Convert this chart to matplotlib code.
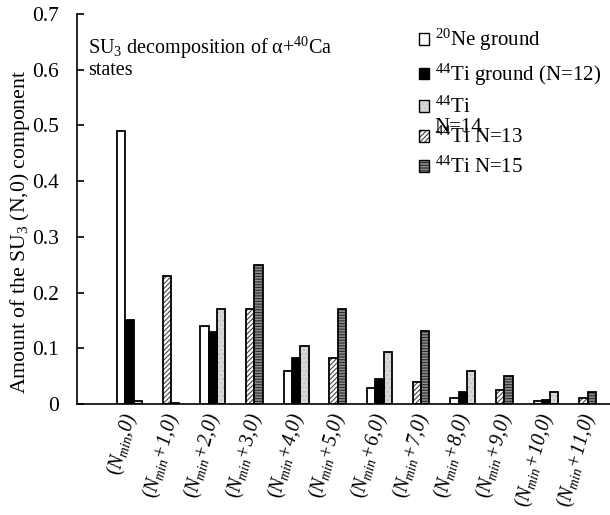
import numpy as np
import matplotlib
matplotlib.use("Agg")
import matplotlib.pyplot as plt
from matplotlib.patches import Patch
from matplotlib.legend_handler import HandlerTuple
import matplotlib.transforms as mtransforms

plt.rcParams['font.family'] = ['Liberation Serif', 'DejaVu Serif']
plt.rcParams['mathtext.fontset'] = 'custom'
plt.rcParams['mathtext.rm'] = 'Liberation Serif'
plt.rcParams['mathtext.it'] = 'Liberation Serif:italic'
plt.rcParams['mathtext.bf'] = 'Liberation Serif:bold'
plt.rcParams['hatch.linewidth'] = 0.8

# ---------------- data ----------------
categories = ["(Nmin,0)", "(Nmin+1,0)", "(Nmin+2,0)", "(Nmin+3,0)", "(Nmin+4,0)",
              "(Nmin+5,0)", "(Nmin+6,0)", "(Nmin+7,0)", "(Nmin+8,0)", "(Nmin+9,0)",
              "(Nmin+10,0)", "(Nmin+11,0)"]
tick_suffixes = [",0)", "+1,0)", "+2,0)", "+3,0)", "+4,0)", "+5,0)", "+6,0)",
                 "+7,0)", "+8,0)", "+9,0)", "+10,0)", "+11,0)"]

ne_ground = [0.49, None, 0.14, None, 0.06, None, 0.028, None, 0.010, None, 0.005, None]
ti_ground = [0.15, None, 0.13, None, 0.082, None, 0.044, None, 0.021, None, 0.008, None]
ti_n14 = [0.005, None, 0.17, None, 0.105, None, 0.094, None, 0.06, None, 0.021, None]
ti_n13 = [None, 0.23, None, 0.17, None, 0.082, None, 0.04, None, 0.026, None, 0.010]
ti_n15 = [None, 0.002, None, 0.25, None, 0.17, None, 0.131, None, 0.05, None, 0.021]

series_labels = [r"$^{20}$Ne ground", r"$^{44}$Ti ground (N=12)", r"$^{44}$Ti",
                 r"$^{44}$Ti N=13", r"$^{44}$Ti N=15"]
series_values = [ne_ground, ti_ground, ti_n14, ti_n13, ti_n15]

# styles: (facecolor, hatch, hatchcolor)
styles = [("white", None, None),
          ("black", None, None),
          ("#d9d9d9", "....", "#bdbdbd"),
          ("white", "///////", "#444444"),
          ("#8c8c8c", "------", "#2a2a2a")]

FS = 15

fig = plt.figure(figsize=(6.10, 5.15), dpi=100)
ax = fig.add_axes([77/610, 1-404/515, 1-77/610, (404-14)/515])

bar_w = 0.2
x = np.arange(len(categories))
for i in range(len(categories)):
    present = [s for s in range(len(series_values)) if series_values[s][i] is not None]
    n = len(present)
    for j, s in enumerate(present):
        pos = x[i] + (j - (n - 1) / 2) * bar_w
        val = series_values[s][i]
        fc, hatch, hc = styles[s]
        if hatch:
            ax.bar(pos, val, width=bar_w, color=fc, edgecolor=hc, linewidth=0,
                   hatch=hatch, zorder=2)
            ax.bar(pos, val, width=bar_w, facecolor='none', edgecolor='black',
                   linewidth=1.3, zorder=3)
        else:
            ax.bar(pos, val, width=bar_w, color=fc, edgecolor='black',
                   linewidth=1.3, zorder=3)

ax.set_ylim(0, 0.7)
ax.set_xlim((77-129.5)/41.65, (610-129.5)/41.65)
ax.set_yticks(np.arange(0, 0.71, 0.1))
ax.set_yticklabels(["0", "0.1", "0.2", "0.3", "0.4", "0.5", "0.6", "0.7"])
ax.tick_params(axis='y', direction='in', length=5, width=1.2, labelsize=FS + 0.5, pad=13)
for sp in ['top', 'right']:
    ax.spines[sp].set_visible(False)
for sp in ['left', 'bottom']:
    ax.spines[sp].set_linewidth(1.2)

ax.set_xticks(x)
ax.set_xticklabels([r"$(N_{min}$" + sfx for sfx in tick_suffixes],
                   rotation=75, ha='right', va='center', rotation_mode='anchor',
                   fontsize=14.2, fontstyle='italic')
ax.tick_params(axis='x', length=0, pad=7)
offset = mtransforms.ScaledTranslation(2/100, 0, fig.dpi_scale_trans)
for lab in ax.get_xticklabels():
    lab.set_transform(lab.get_transform() + offset)

ax.set_ylabel(r"Amount of the SU$_3$ (N,0) component", fontsize=FS + 0.7)
ax.yaxis.set_label_coords((32-77)/533, (404-232)/390)

ax.text((88-77)/533, (404-57)/390, "SU$_3$ decomposition of \u03b1+$^{40}$Ca\nstates",
        transform=ax.transAxes, fontsize=14.5, va='center', ha='left', linespacing=1.0)

# legend
handles = []
for fc, hatch, hc in styles:
    if hatch:
        h = (Patch(facecolor=fc, edgecolor=hc, hatch=hatch, linewidth=0),
             Patch(facecolor='none', edgecolor='black', linewidth=1.0))
    else:
        h = Patch(facecolor=fc, edgecolor='black', linewidth=1.0)
    handles.append(h)
leg = ax.legend(handles, series_labels, loc='upper left',
                bbox_to_anchor=((419-77)/533, (404-27)/390),
                frameon=False, fontsize=FS, handlelength=0.5, handleheight=0.5,
                handletextpad=0.25, labelspacing=0.42, borderpad=0, borderaxespad=0,
                handler_map={tuple: HandlerTuple(ndivide=1, pad=0)})
ax.text((434-77)/533, (404-128)/390, "N=14", transform=ax.transAxes,
        fontsize=FS, va='center', ha='left')

fig.savefig("out.png", dpi=100)
